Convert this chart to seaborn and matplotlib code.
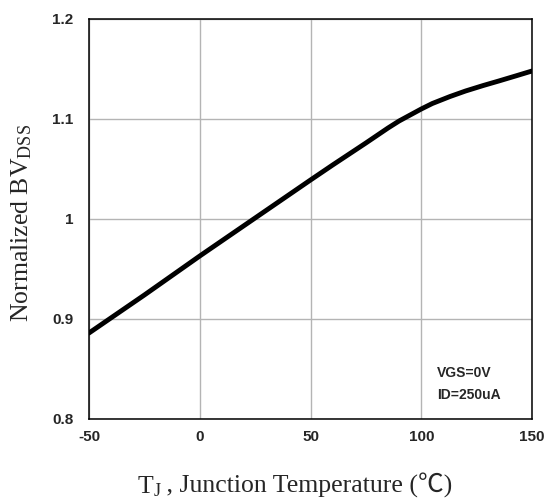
import matplotlib
matplotlib.use("Agg")
import matplotlib.pyplot as plt
import seaborn as sns
import pandas as pd

# values
temp_c = [-50, -25, 0, 25, 50, 60, 75, 85, 90, 95, 100, 105, 113, 120, 128,
          135, 143, 150]
bvdss_norm = [0.886, 0.924, 0.963, 1.001, 1.039, 1.054, 1.076, 1.091, 1.098,
              1.104, 1.110, 1.1155, 1.1225, 1.128, 1.1335, 1.138, 1.1433, 1.148]

x_ticks = [-50, 0, 50, 100, 150]
x_ticklabels = ["-50", "0", "50", "100", "150"]
y_ticks = [0.8, 0.9, 1.0, 1.1, 1.2]
y_ticklabels = ["0.8", "0.9", "1", "1.1", "1.2"]

df = pd.DataFrame({"temp": temp_c, "bv": bvdss_norm})

sns.set_style("whitegrid", {"grid.color": "#b4b4b4", "axes.edgecolor": "black"})
plt.rcParams["mathtext.default"] = "regular"

W, H = 545, 500
fig = plt.figure(figsize=(W / 100, H / 100), dpi=100)
ax = fig.add_axes([89 / W, 1 - 419 / H, 443 / W, 400 / H])

sns.lineplot(ax=ax, data=df, x="temp", y="bv", color="black", linewidth=3.5)

ax.set_xlim(-50, 150)
ax.set_ylim(0.8, 1.2)
ax.set_xticks(x_ticks)
ax.set_xticklabels(x_ticklabels, fontsize=11, fontweight="bold", family="Liberation Sans")
ax.set_yticks(y_ticks)
ax.set_yticklabels(y_ticklabels, fontsize=11, fontweight="bold", family="Liberation Sans")
ax.tick_params(axis="x", length=0, pad=8)
ax.tick_params(axis="y", length=0, pad=11)
ax.grid(True, color="#b4b4b4", linewidth=1)
ax.set_xlabel("")
ax.set_ylabel("")
for s in ax.spines.values():
    s.set_linewidth(1.1)
    s.set_color("black")

# y label
fig.text(28 / W, 1 - 223 / H, r"Normalized BV$_{DSS}$", fontsize=18.5,
         family="Liberation Serif", rotation=90, rotation_mode="anchor",
         ha="center", va="baseline")

# x label, built in pieces so the ℃ sign can fall back to a CJK font
base_y = 1 - 493 / H
t1 = fig.text(0.25, base_y, "T", fontsize=18.5, family="Liberation Serif",
              ha="left", va="baseline")
t2 = ax.annotate("J", xy=(1, base_y - 3 / H), xycoords=(t1, "figure fraction"),
                 fontsize=13, family="Liberation Serif", ha="left", va="baseline")
t3 = ax.annotate(" , Junction Temperature (℃)", xy=(1, base_y),
                 xycoords=(t2, "figure fraction"), fontsize=18.5,
                 family=["Liberation Serif", "Noto Sans CJK SC"],
                 ha="left", va="baseline")
fig.canvas.draw()
r = fig.canvas.get_renderer()
x0 = t1.get_window_extent(r).x0
x1 = t3.get_window_extent(r).x1
t1.set_x(t1.get_position()[0] + (295 - (x0 + x1) / 2) / W)

# test conditions
ax.text(107, 0.842, "VGS=0V", fontsize=10, fontweight="bold",
        family="Liberation Sans", va="baseline")
ax.text(107, 0.820, "ID=250uA", fontsize=10, fontweight="bold",
        family="Liberation Sans", va="baseline")

fig.savefig("out.png", dpi=100)
